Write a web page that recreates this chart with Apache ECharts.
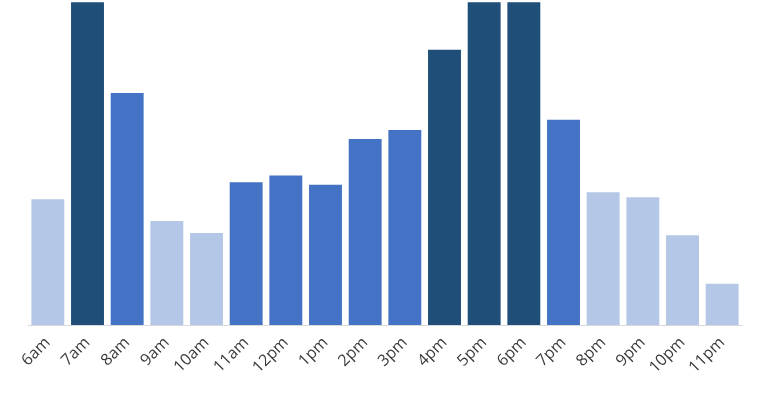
<!DOCTYPE html>
<html><head><meta charset="utf-8">
<script src="https://cdn.jsdelivr.net/npm/echarts@6/dist/echarts.min.js"></script>
<style>html,body{margin:0;padding:0;background:#fff}#c{width:765px;height:400px}</style>
</head><body><div id="c"></div>
<script>
const hours = ['6am','7am','8am','9am','10am','11am','12pm','1pm','2pm','3pm','4pm','5pm','6pm','7pm','8pm','9pm','10pm','11pm'];
const values = [39.0,100,71.9,32.2,28.5,44.2,46.3,43.5,57.6,60.4,85.3,100,100,63.6,41.1,39.6,27.8,12.8];
const levels = ['low','high','mid','low','low','mid','mid','mid','mid','mid','high','high','high','mid','low','low','low','low'];
const levelColors = {low:'#b4c7e7', mid:'#4472c4', high:'#1f4e79'};

const chart = echarts.init(document.getElementById('c'));
chart.setOption({
  animation:false,
  grid:{left:28,right:23,top:2.3,bottom:75,containLabel:false},
  xAxis:{type:'category',data:hours,
    axisLine:{lineStyle:{color:'#d9d9d9',width:1}},
    axisTick:{show:false},
    axisLabel:{rotate:45,interval:0,fontSize:16,color:'#3a3a3a',fontFamily:'Open Sans',margin:15}},
  yAxis:{type:'value',min:0,max:100,show:false,splitLine:{show:false}},
  series:[{type:'bar',barCategoryGap:'17%',
    data:values.map((v,i)=>({value:v,itemStyle:{color:levelColors[levels[i]]}}))}]
});
</script></body></html>
